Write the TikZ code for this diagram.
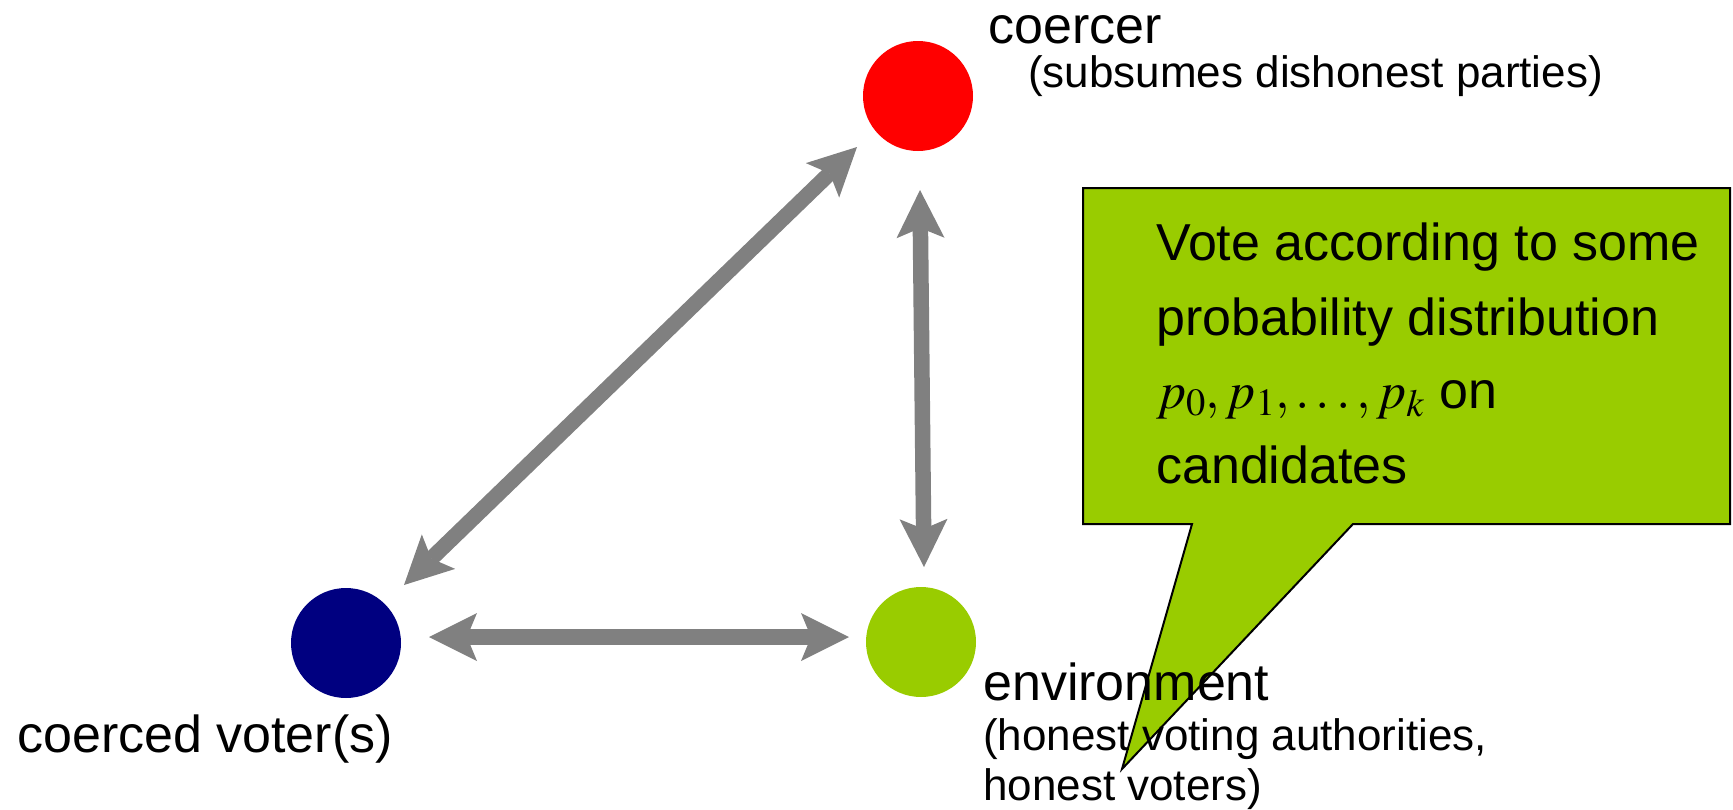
\documentclass[tikz,border=0pt]{standalone}
\usepackage{mathptmx}
\usepackage[no-math]{fontspec}
\setmainfont{Liberation Sans}
\usetikzlibrary{arrows.meta,calc}
\definecolor{leaf}{RGB}{153,204,0}
\definecolor{navyblue}{RGB}{0,0,128}
\definecolor{arrowgray}{RGB}{128,128,128}
\tikzset{
  agent/.style={circle, minimum size=110pt, inner sep=0pt, draw=none},
  bigtip/.tip={Stealth[length=48pt,width=48pt,inset=10pt,line width=0pt]},
  biarrow/.style={draw=arrowgray, fill=arrowgray, line width=15.5pt, {bigtip}-{bigtip}},
  lbl/.style={inner sep=0pt, anchor=base west, font=\fontsize{52}{60}\selectfont},
  sublbl/.style={inner sep=0pt, anchor=base west, font=\fontsize{44}{50}\selectfont},
  calltext/.style={inner sep=0pt, anchor=base west, font=\fontsize{52}{75}\selectfont},
  callout/.style={fill=leaf, draw=black, line width=2pt, line join=miter}
}
\begin{document}
\begin{tikzpicture}[x=1pt,y=-1pt]
\useasboundingbox (0,0) rectangle (1733,809);
% callout
\draw[callout] (1083,188) -- (1730,188) -- (1730,524) -- (1353,524) -- (1122,769) -- (1192,524) -- (1083,524) -- cycle;
\node[calltext] (c1) at (1156,260) {Vote according to some};
\node[calltext] (c2) at (1156,335) {probability distribution};
\node[calltext] (c3) at (1156,408) {$p_0,p_1,\ldots,p_k$ on};
\node[calltext] (c4) at (1156,483) {candidates};
% agents
\node[agent, fill=red] (coercer) at (918,96) {};
\node[agent, fill=navyblue] (voter) at (346,643) {};
\node[agent, fill=leaf] (env) at (921,642) {};
% connectors
\draw[biarrow] ($(voter)+(58,-58)$) -- ($(coercer)+(-61,51)$);
\draw[biarrow] ($(coercer)+(2,94)$) -- ($(env)+(3,-75)$);
\draw[biarrow] ($(voter)+(83,-6)$) -- ($(env)+(-72,-5)$);
% labels
\node[lbl] (lc) at (988,43) {coercer};
\node[sublbl] (lcs) at (1028,87) {(subsumes dishonest parties)};
\node[lbl] (lv) at (17,752) {coerced voter(s)};
\node[lbl] (le) at (983,700) {environment};
\node[sublbl] (le1) at (983,750) {(honest voting authorities,};
\node[sublbl] (le2) at (983,800) {honest voters)};
\end{tikzpicture}
\end{document}
